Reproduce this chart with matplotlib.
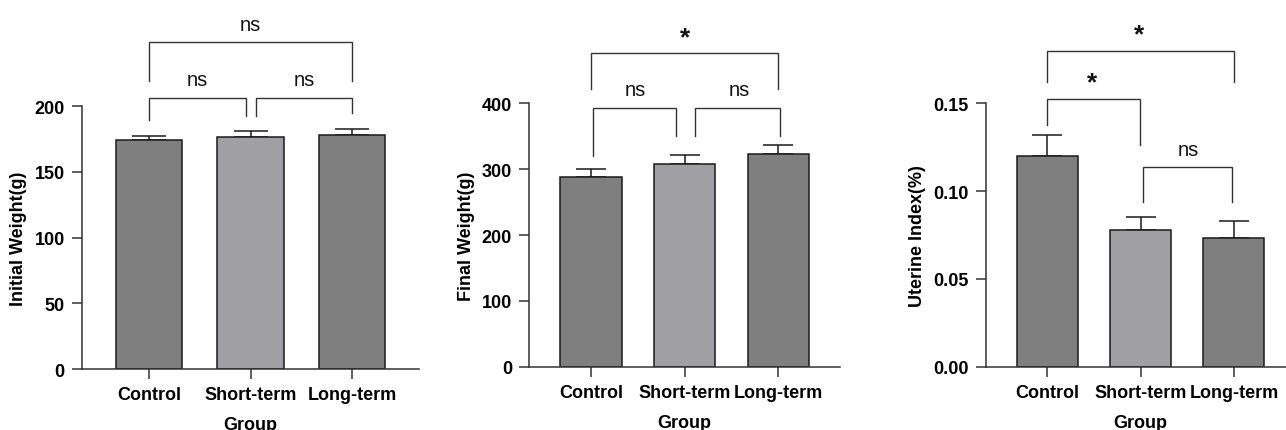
import matplotlib
matplotlib.use("Agg")
import matplotlib.pyplot as plt

plt.rcParams['font.family'] = ['Liberation Sans', 'DejaVu Sans']

groups = ["Control", "Short-term", "Long-term"]
bar_colors = ["#7f7f7f", "#a0a0a4", "#7f7f7f"]

initial_mean = [174.0, 176.7, 177.7]
initial_sem = [3.0, 4.0, 5.0]
final_mean = [288.7, 308.5, 323.7]
final_sem = [12.3, 13.5, 13.3]
uterine_mean = [0.1199, 0.0781, 0.0733]
uterine_sem = [0.0121, 0.0074, 0.0095]

ylabels = ["Initial Weight(g)", "Final Weight(g)", "Uterine Index(%)"]
yticks = [[0, 50, 100, 150, 200], [0, 100, 200, 300, 400], [0.00, 0.05, 0.10, 0.15]]
ytick_labels = [["0", "50", "100", "150", "200"], ["0", "100", "200", "300", "400"],
                ["0.00", "0.05", "0.10", "0.15"]]

# brackets: (x_left, x_right, y_top, y_left_end, y_right_end, label, label_x, label_y)
brackets1 = [(0.0, 0.957, 206, 189, 192.6, "ns", 0.48, 220.5),
             (1.056, 2.0, 206, 192.6, 194.4, "ns", 1.53, 220.5),
             (0.0, 2.0, 249, 219, 219, "ns", 1.0, 262)]
brackets2 = [(0.02, 0.91, 392.7, 320.7, 351, "ns", 0.47, 421),
             (1.11, 2.02, 392.7, 351, 351, "ns", 1.58, 421),
             (0.0, 2.0, 476, 422, 422, "*", 1.0, 500)]
brackets3 = [(0.0, 0.99, 0.1525, 0.1377, 0.1263, "*", 0.48, 0.162),
             (1.03, 1.98, 0.1136, 0.0937, 0.0937, "ns", 1.51, 0.124),
             (0.0, 2.0, 0.180, 0.162, 0.162, "*", 0.98, 0.1895)]

means = [initial_mean, final_mean, uterine_mean]
sems = [initial_sem, final_sem, uterine_sem]
brackets = [brackets1, brackets2, brackets3]
ylims = [(0, 200), (0, 400), (0, 0.15)]
capsizes = [12.2, 10.8, 10.8]

fig = plt.figure(figsize=(12.86, 4.31), dpi=100)
positions = [[0.0638, 0.1415, 0.2621, 0.6102],
             [0.4116, 0.1469, 0.2416, 0.6109],
             [0.7667, 0.1469, 0.2406, 0.6109]]

spine_color = "#333333"
for i in range(3):
    ax = fig.add_axes(positions[i])
    x = list(range(len(groups)))
    ax.bar(x, means[i], width=0.655, color=bar_colors, edgecolor="#1a1a1a",
           linewidth=1.1, zorder=2)
    ax.errorbar(x, means[i], yerr=[[0]*3, sems[i]], fmt="none", ecolor="#1a1a1a",
                elinewidth=1.1, capsize=capsizes[i], capthick=1.1, zorder=1)
    ax.set_xlim(-0.66, 2.66)
    ax.set_ylim(*ylims[i])
    ax.set_yticks(yticks[i])
    ax.set_yticklabels(ytick_labels[i])
    ax.set_xticks(x)
    ax.set_xticklabels(groups)
    for s in ["top", "right"]:
        ax.spines[s].set_visible(False)
    for s in ["left", "bottom"]:
        ax.spines[s].set_color(spine_color)
        ax.spines[s].set_linewidth(1.1)
    ax.tick_params(axis="both", direction="out", length=7, width=1.1, color=spine_color,
                   labelsize=13, pad=5.5)
    for lab in ax.get_xticklabels() + ax.get_yticklabels():
        lab.set_fontweight("bold")
    ax.set_ylabel(ylabels[i], fontsize=13, fontweight="bold", labelpad=5)
    ax.set_xlabel("Group", fontsize=13, fontweight="bold", labelpad=9)
    for (xl, xr, yt, yle, yre, lab, lx, ly) in brackets[i]:
        ax.plot([xl, xl, xr, xr], [yle, yt, yt, yre], color="#333333", lw=1.0,
                clip_on=False, solid_joinstyle="miter")
        if lab == "*":
            ax.text(lx, ly, lab, ha="center", va="center", fontsize=19,
                    fontweight="bold", color="#111111", clip_on=False)
        else:
            ax.text(lx, ly, lab, ha="center", va="center", fontsize=14.5,
                    color="#111111", clip_on=False)

fig.savefig("out.png", dpi=100)
